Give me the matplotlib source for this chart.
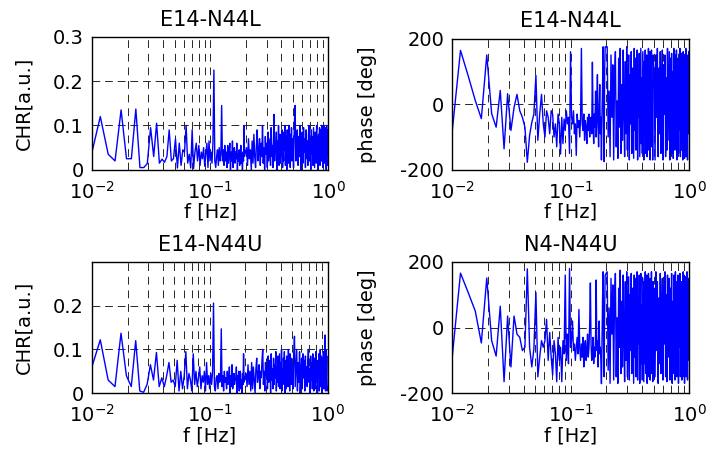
import numpy as np
import matplotlib
matplotlib.use('Agg')
import matplotlib.pyplot as plt

# --------- Frequency grid ---------
# f = k/512 Hz (k = 5..100), k/256 Hz (k = 52..127), k/128 Hz (k = 64..128)
k_lo = np.arange(5, 101)
k_mid = np.arange(52, 128)
k_hi = np.arange(64, 129)

# --------- E14-N44L coherence ---------
chr_L_lo = [0.03, 0.12, 0.035, 0.02, 0.135, 0.025, 0.025, 0.137, 0.005, 0.005,
            0.014, 0.095, 0.03, 0.105, 0.015, 0.024, 0.017, 0.03, 0.09, 0.02,
            0.025, 0.07, 0.004, 0.06, 0.01, 0.045, 0.04, 0.1, 0.015, 0.035,
            0.004, 0.09, 0.003, 0.04, 0.06, 0.02, 0.055, 0.01, 0.04, 0.025,
            0.05, 0.008, 0.035, 0.06, 0.005, 0.065, 0.02,
            0.04, 0.015, 0.06, 0.225, 0.02, 0.005, 0.03, 0.045, 0.01, 0.05,
            0.02, 0.035, 0.145, 0.02, 0.045, 0.01, 0.055, 0.02, 0.04, 0.005,
            0.055, 0.015, 0.035, 0.06, 0.0, 0.04, 0.02, 0.065, 0.005, 0.03,
            0.05, 0.015, 0.04, 0.025, 0.06, 0.0, 0.035, 0.02, 0.045, 0.01,
            0.03, 0.055, 0.015, 0.035, 0.0, 0.04, 0.02, 0.1, 0.03]
chr_L_mid = [0.05, 0.01, 0.07, 0.025, 0.045, 0.0, 0.065, 0.015, 0.08, 0.03,
             0.005, 0.055, 0.09, 0.02, 0.04, 0.07, 0.01, 0.06, 0.03, 0.1,
             0.015, 0.05, 0.0, 0.075, 0.035, 0.06, 0.005, 0.085, 0.02, 0.045,
             0.07, 0.01, 0.095, 0.03, 0.055, 0.005, 0.075, 0.125, 0.02, 0.06,
             0.04, 0.085, 0.0, 0.065, 0.025, 0.1, 0.01, 0.05, 0.08, 0.015,
             0.07, 0.035, 0.09, 0.005, 0.06, 0.02, 0.085, 0.045, 0.1, 0.01,
             0.055, 0.075, 0.0, 0.09, 0.03, 0.065, 0.015, 0.1, 0.04, 0.07,
             0.005, 0.08, 0.05, 0.095, 0.02, 0.06]
chr_L_hi = [0.07, 0.005,
            0.1, 0.145, 0.02, 0.065, 0.09, 0.01, 0.075, 0.03, 0.1, 0.0,
            0.055, 0.085, 0.015, 0.095, 0.04, 0.07, 0.005, 0.09, 0.025, 0.065,
            0.01, 0.08, 0.1, 0.02, 0.06, 0.0, 0.09, 0.035, 0.075, 0.01,
            0.095, 0.045, 0.005, 0.085, 0.06, 0.015, 0.1, 0.03, 0.07, 0.0,
            0.08, 0.05, 0.095, 0.01, 0.065, 0.09, 0.02, 0.1, 0.04, 0.005,
            0.085, 0.06, 0.1, 0.015, 0.075, 0.035, 0.095, 0.0, 0.1, 0.045,
            0.09, 0.01, 0.02]

# --------- E14-N44L phase ---------
ph_L_lo = [-115, 164, 84, 11, -44, 150, -29, -70, 42, -136,
           32, -80, -10, 30, -20, -40, -70, -177, -95, -56,
           -30, 88, -110, -30, 30, -60, -100, -20, -40, -90,
           -20, -30, -100, -60, -130, -30, -60, -152, -40, -120,
           -45, -80, -20, -60, -40, -150, 160,
           -40, -60, -20, -90, -60, -156, -30, -70, -50, -100,
           -40, 170, -60, -80, -30, -110, -50, -70, -120, -40,
           -80, -30, -100, -60, -40, -90, 128, -50, -120, -30,
           -70, 40, -100, -20, 90, -60, -130, -20, 60, -90,
           -40, -170, -30, 50, 175, -60, -175, 100, 175]
ph_L_mid = [175, -100, 40, -160, 150, -40, 120, -170, 80, 160,
            -130, 10, -165, 140, -70, 170, -150, 60, -110, 165,
            -20, -160, 130, -90, 175, -140, 30, 150, -170, 90,
            -60, 160, -150, 110, -20, -165, 170, -80, 140, -140,
            50, 165, -170, 100, -40, 155, -160, 20, 170, -120,
            80, -150, 160, -10, -170, 130, -100, 165, -150, 60,
            150, -160, 100, -60, 170, -140, 40, 160, -170, 120,
            -90, 165, -130, 70, -170, 150]
ph_L_hi = [130, 90,
           -170, 150, -40, 170, -160, 110, -90, 160, -150, 50,
           165, -170, 120, -30, 150, -160, 80, -140, 170, -110,
           30, 160, -170, 140, -60, 155, -150, 100, -165, 170,
           -20, -140, 150, -100, 165, -170, 60, 140, -150, 120,
           -80, 170, -160, 30, 155, -140, 100, -170, 160, -50,
           150, -165, 110, -120, 170, -160, 40, 150, -170, 130,
           -90, 160, 0]

# --------- E14-N44U coherence ---------
chr_U_lo = [0.053, 0.122, 0.03, 0.015, 0.137, 0.04, 0.015, 0.12, 0.005, 0.002,
            0.02, 0.065, 0.03, 0.093, 0.015, 0.035, 0.015, 0.04, 0.07, 0.025,
            0.03, 0.015, 0.075, 0.005, 0.05, 0.01, 0.04, 0.095, 0.01, 0.045,
            0.03, 0.005, 0.09, 0.02, 0.05, 0.015, 0.035, 0.06, 0.01, 0.04,
            0.025, 0.05, 0.005, 0.07, 0.02, 0.04, 0.01,
            0.045, 0.02, 0.05, 0.206, 0.015, 0.005, 0.035, 0.04, 0.01, 0.045,
            0.025, 0.03, 0.147, 0.015, 0.04, 0.005, 0.05, 0.025, 0.035, 0.01,
            0.05, 0.02, 0.03, 0.06, 0.0, 0.04, 0.015, 0.065, 0.01, 0.025,
            0.045, 0.02, 0.035, 0.03, 0.06, 0.0, 0.04, 0.015, 0.05, 0.005,
            0.035, 0.05, 0.01, 0.03, 0.0, 0.045, 0.02, 0.09, 0.025]
chr_U_mid = [0.045, 0.015, 0.065, 0.02, 0.05, 0.005, 0.07, 0.01, 0.06, 0.03,
             0.0, 0.055, 0.08, 0.025, 0.04, 0.065, 0.01, 0.05, 0.035, 0.075,
             0.1, 0.02, 0.05, 0.005, 0.07, 0.04, 0.06, 0.01, 0.085, 0.025,
             0.045, 0.075, 0.0, 0.09, 0.03, 0.055, 0.01, 0.08, 0.02, 0.065,
             0.035, 0.095, 0.005, 0.06, 0.025, 0.085, 0.015, 0.05, 0.09, 0.01,
             0.07, 0.03, 0.1, 0.005, 0.055, 0.02, 0.08, 0.045, 0.095, 0.0,
             0.06, 0.075, 0.01, 0.085, 0.035, 0.07, 0.015, 0.1, 0.04, 0.065,
             0.005, 0.09, 0.045, 0.08, 0.02, 0.055]
chr_U_hi = [0.065, 0.01,
            0.09, 0.13, 0.015, 0.06, 0.1, 0.005, 0.07, 0.025, 0.095, 0.0,
            0.05, 0.08, 0.01, 0.09, 0.035, 0.075, 0.005, 0.085, 0.02, 0.06,
            0.015, 0.075, 0.1, 0.025, 0.055, 0.0, 0.085, 0.03, 0.07, 0.01,
            0.09, 0.04, 0.005, 0.08, 0.055, 0.01, 0.095, 0.025, 0.065, 0.0,
            0.075, 0.045, 0.09, 0.005, 0.06, 0.1, 0.015, 0.085, 0.035, 0.0,
            0.08, 0.055, 0.095, 0.01, 0.07, 0.03, 0.133, 0.005, 0.1, 0.04,
            0.085, 0.005, 0.015]

# --------- N4-N44U phase ---------
ph_U_lo = [-124, 166, 105, 50, -47, 151, -40, -87, 65, -165,
           35, -120, 35, -20, -30, -70, -60, 179, -60, -120,
           -65, 107, -150, -90, -40, -60, -40, 25, -100, -15,
           -90, -145, -40, -80, -165, -30, -100, -60, -165, -40,
           -80, 160, -100, -20, -110, 180, -60,
           -40, 20, -70, -50, -100, -60, -30, -80, 55, -60,
           -100, -50, -90, -30, -120, -60, -40, -100, -70, -20,
           -90, -60, 10, 136, -50, -100, -80, -30, -110, -60,
           -90, -20, 145, -70, -40, -120, -30, 20, -80, -60,
           -100, -171, -40, 80, 170, -60, -150, 60, 160]
ph_U_mid = [170, -130, 60, -170, 150, -20, 130, -160, 90, 165,
            -150, 30, -170, 120, -60, 175, -140, 80, -120, 160,
            -40, -165, 140, -100, 170, -150, 10, 155, -160, 100,
            -70, 165, -140, 120, -30, -170, 160, -90, 150, -150,
            40, 170, -160, 90, -50, 160, -170, 30, 165, -110,
            70, -160, 150, -20, -165, 140, -110, 170, -140, 50,
            160, -170, 110, -70, 165, -150, 20, 150, -160, 130,
            -80, 170, -140, 60, -165, 140]
ph_U_hi = [-160, 120,
           -150, 170, -70, 140, -170, 90, -110, 165, -140, 30,
           150, -160, 130, -50, 170, -150, 100, -165, 160, -90,
           60, 150, -160, 120, -30, 165, -170, 80, -140, 160,
           -50, -160, 170, -120, 140, -150, 30, 160, -170, 100,
           -60, 165, -150, 50, 140, -160, 120, -150, 170, -30,
           160, -170, 90, -140, 155, -150, 60, 170, -160, 110,
           -100, 150, 20]

titles = ['E14-N44L', 'E14-N44L', 'E14-N44U', 'N4-N44U']

f = np.concatenate([k_lo / 512.0, k_mid / 256.0, k_hi / 128.0])

series = [chr_L_lo + chr_L_mid + chr_L_hi,
          ph_L_lo + ph_L_mid + ph_L_hi,
          chr_U_lo + chr_U_mid + chr_U_hi,
          ph_U_lo + ph_U_mid + ph_U_hi]

# --------- Figure ---------
plt.rcParams['font.family'] = ['DejaVu Sans']
plt.rcParams['font.size'] = 14
plt.rcParams['axes.unicode_minus'] = False

fig = plt.figure(figsize=(7.09, 4.54), dpi=100)

# [left, bottom, width, height] in figure fraction
pos = [[0.130, 0.626, 0.333, 0.293],
       [0.638, 0.626, 0.334, 0.289],
       [0.130, 0.134, 0.332, 0.289],
       [0.638, 0.134, 0.334, 0.289]]

for i in range(4):
    ax = fig.add_axes(pos[i])
    ax.plot(f, series[i], color='#0000ff', linewidth=1.0)
    ax.set_xscale('log')
    ax.set_xlim(0.01, 1)
    ax.set_xticks([0.01, 0.1, 1])
    if i % 2 == 0:
        ax.set_ylim(0, 0.3)
        if i == 0:
            ax.set_yticks([0, 0.1, 0.2, 0.3])
            ax.set_yticklabels(['0', '0.1', '0.2', '0.3'])
        else:
            ax.set_yticks([0, 0.1, 0.2])
            ax.set_yticklabels(['0', '0.1', '0.2'])
        ax.set_ylabel('CHR[a.u.]')
        ax.yaxis.set_label_coords(-0.25, 0.5)
    else:
        ax.set_ylim(-200, 200)
        ax.set_yticks([-200, 0, 200])
        ax.set_ylabel('phase [deg]')
        ax.yaxis.set_label_coords(-0.32, 0.5)
    ax.set_title(titles[i], fontsize=15, pad=8)
    ax.set_xlabel('f [Hz]', labelpad=0)
    ax.grid(True, which='both', axis='x', color='0.15', linestyle=(0, (8, 6)), linewidth=0.7)
    ax.grid(True, which='major', axis='y', color='0.15', linestyle=(0, (8, 5)), linewidth=0.7)
    ax.tick_params(which='both', direction='in', length=0, labelsize=14)
    ax.tick_params(axis='x', pad=8)
    ax.tick_params(axis='y', pad=6)
    for s in ax.spines.values():
        s.set_linewidth(1.0)

plt.savefig('out.png', dpi=100)
